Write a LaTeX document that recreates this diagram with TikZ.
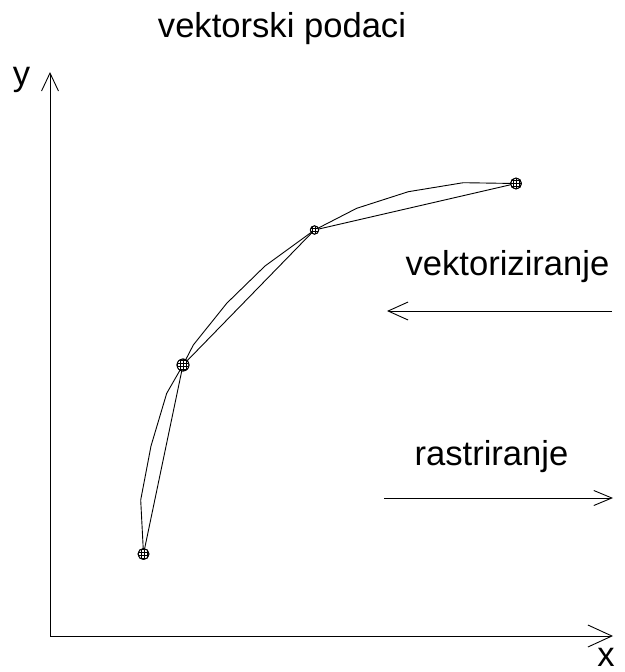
\documentclass[tikz,border=0pt]{standalone}
\usepackage{fontspec}
\setmainfont{Liberation Sans}
\usetikzlibrary{arrows.meta,patterns}
\begin{document}
\begin{tikzpicture}[x=1pt,y=-1pt,
  line/.style={line width=0.9pt,black},
  lbl/.style={font=\fontsize{34.6}{40}\selectfont,anchor=base,inner sep=0pt},
  marker/.style={line width=0.8pt,draw=black,fill=white},
  hatch/.style={pattern=grid,pattern color=black}]
\useasboundingbox (0,0) rectangle (624,672);
% title and labels
\node[lbl] (title) at (282,37) {vektorski podaci};
\node[lbl] (ylab) at (21.5,85) {y};
\node[lbl] (xlab) at (606,666) {x};
\node[lbl] (vlab) at (507.5,275) {vektoriziranje};
\node[lbl] (rlab) at (491.5,465) {rastriranje};
% axes
\coordinate (o) at (50,636);
\coordinate (ytip) at (50,72);
\coordinate (xtip) at (613,636);
\draw[line,-{Straight Barb[length=18pt,width=17pt]}] (o) -- (ytip);
\draw[line,-{Straight Barb[length=24pt,width=22pt]}] (o) -- (xtip);
% process arrows
\coordinate (va) at (612,311);
\coordinate (vb) at (387,311);
\coordinate (ra) at (384,498);
\coordinate (rb) at (613,498);
\draw[line,-{Straight Barb[length=20pt,width=18pt]}] (va) -- (vb);
\draw[line,-{Straight Barb[length=18pt,width=15pt]}] (ra) -- (rb);
% points
\coordinate (p1) at (143.5,554);
\coordinate (p2) at (183,365);
\coordinate (p3) at (314.5,230);
\coordinate (p4) at (516,183.5);
% curve
\draw[line,line join=round] (p1) -- (140.7,500) -- (151,446) -- (166.7,393.3) -- (p2)
  -- (193.3,345) -- (226.7,303.3) -- (265,266) -- (p3)
  -- (356.7,208.3) -- (408.3,191.7) -- (463.3,182.7) -- (p4);
% chords
\draw[line,line join=round] (p1) -- (p2) -- (p3) -- (p4);
% markers
\foreach \p/\r in {p1/5.5,p2/6,p3/4.2,p4/5.5}{
  \draw[marker] (\p) circle[radius=\r];
  \fill[hatch] (\p) circle[radius=\r];
  \draw[line width=0.8pt] (\p) circle[radius=\r];
}
\end{tikzpicture}
\end{document}
